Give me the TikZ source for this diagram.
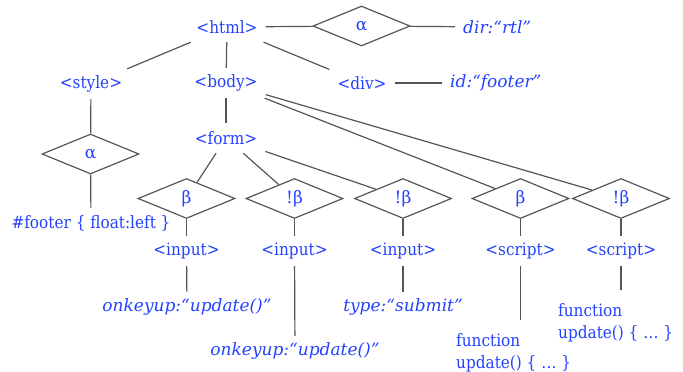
\documentclass[tikz,border=0pt]{standalone}
\usepackage{fontspec}
\setmainfont{DejaVu Serif}
\newfontfamily\condfont{DejaVu Serif Condensed}
\usetikzlibrary{shapes.geometric}
\definecolor{tblue}{RGB}{35,65,255}
\definecolor{lgray}{RGB}{85,85,85}
\tikzset{
  lbl/.style={text=tblue, font=\condfont\fontsize{17}{20}\selectfont, inner xsep=8pt, inner ysep=0pt, minimum height=30pt},
  ilbl/.style={lbl, font=\fontsize{17}{20}\selectfont\itshape},
  codelbl/.style={text=tblue, font=\condfont\fontsize{17}{22}\selectfont, align=left, inner sep=0pt, anchor=north west},
  dia/.style={diamond, draw=lgray, line width=1.2pt, minimum width=97pt, minimum height=40pt, inner sep=0pt, text=tblue, font=\fontsize{17}{20}\selectfont},
  edge/.style={draw=lgray, line width=1.2pt}
}
\begin{document}
\begin{tikzpicture}[x=1pt,y=-1pt]
\useasboundingbox (0,0) rectangle (683,372);
% level 0
\node[lbl] (html) at (227,27) {<html>};
\node[dia] (a1) at (361.5,26) {α};
\node[ilbl, anchor=west] (dir) at (455,27) {dir:“rtl”};
% level 1
\node[lbl] (style) at (91,84) {<style>};
\node[lbl] (body) at (226,83) {<body>};
\node[lbl] (div) at (362,83) {<div>};
\node[ilbl, anchor=west] (id) at (442,83) {id:“footer”};
% style branch
\node[dia] (a2) at (90.5,154) {α};
\node[lbl] (footer) at (91,223) {\#footer \{ float:left \}};
% form
\node[lbl] (form) at (226,138) {<form>};
% diamonds row
\node[dia] (b1) at (186.5,198.5) {β};
\node[dia] (b2) at (294.5,198.5) {!β};
\node[dia] (b3) at (403,198.5) {!β};
\node[dia] (b4) at (520.5,198.5) {β};
\node[dia] (b5) at (621,198.5) {!β};
% tags row
\node[lbl] (in1) at (186.5,251) {<input>};
\node[lbl] (in2) at (294.5,251) {<input>};
\node[lbl] (in3) at (403,251) {<input>};
\node[lbl] (sc1) at (520.5,251) {<script>};
\node[lbl] (sc2) at (621,251) {<script>};
% attributes
\node[ilbl] (on1) at (187,307) {onkeyup:“update()”};
\node[ilbl] (on2) at (295,351) {onkeyup:“update()”};
\node[ilbl] (ty) at (403,307) {type:“submit”};
\node[codelbl] (code1) at (456,333) {function\\update() \{ … \}};
\node[codelbl] (code2) at (558,303) {function\\update() \{ … \}};
% edges
\path[edge] (html) -- (a1);
\path[edge] (a1) -- (dir);
\path[edge] (html) -- (style);
\path[edge] (html) -- (body);
\path[edge] (html) -- (div);
\path[edge] (div) -- (id);
\path[edge] (style) -- (a2);
\path[edge] (a2) -- (footer);
\path[edge] (body) -- (form);
\path[edge] (form) -- (b1);
\path[edge] (form) -- (b2);
\path[edge] (form) -- (b3);
\path[edge] (body) -- (b4);
\path[edge] (body) -- (b5);
\path[edge] (b1) -- (in1);
\path[edge] (b2) -- (in2);
\path[edge] (b3) -- (in3);
\path[edge] (b4) -- (sc1);
\path[edge] (b5) -- (sc2);
\path[edge] (in1) -- (on1);
\path[edge] (in2) -- (on2);
\path[edge] (in3) -- (ty);
\coordinate (c1) at (sc1 |- code1.north);
\coordinate (c2) at (sc2 |- code2.north);
\path[edge] (sc1) -- ([yshift=13pt]c1);
\path[edge] (sc2) -- ([yshift=13pt]c2);
\end{tikzpicture}
\end{document}
